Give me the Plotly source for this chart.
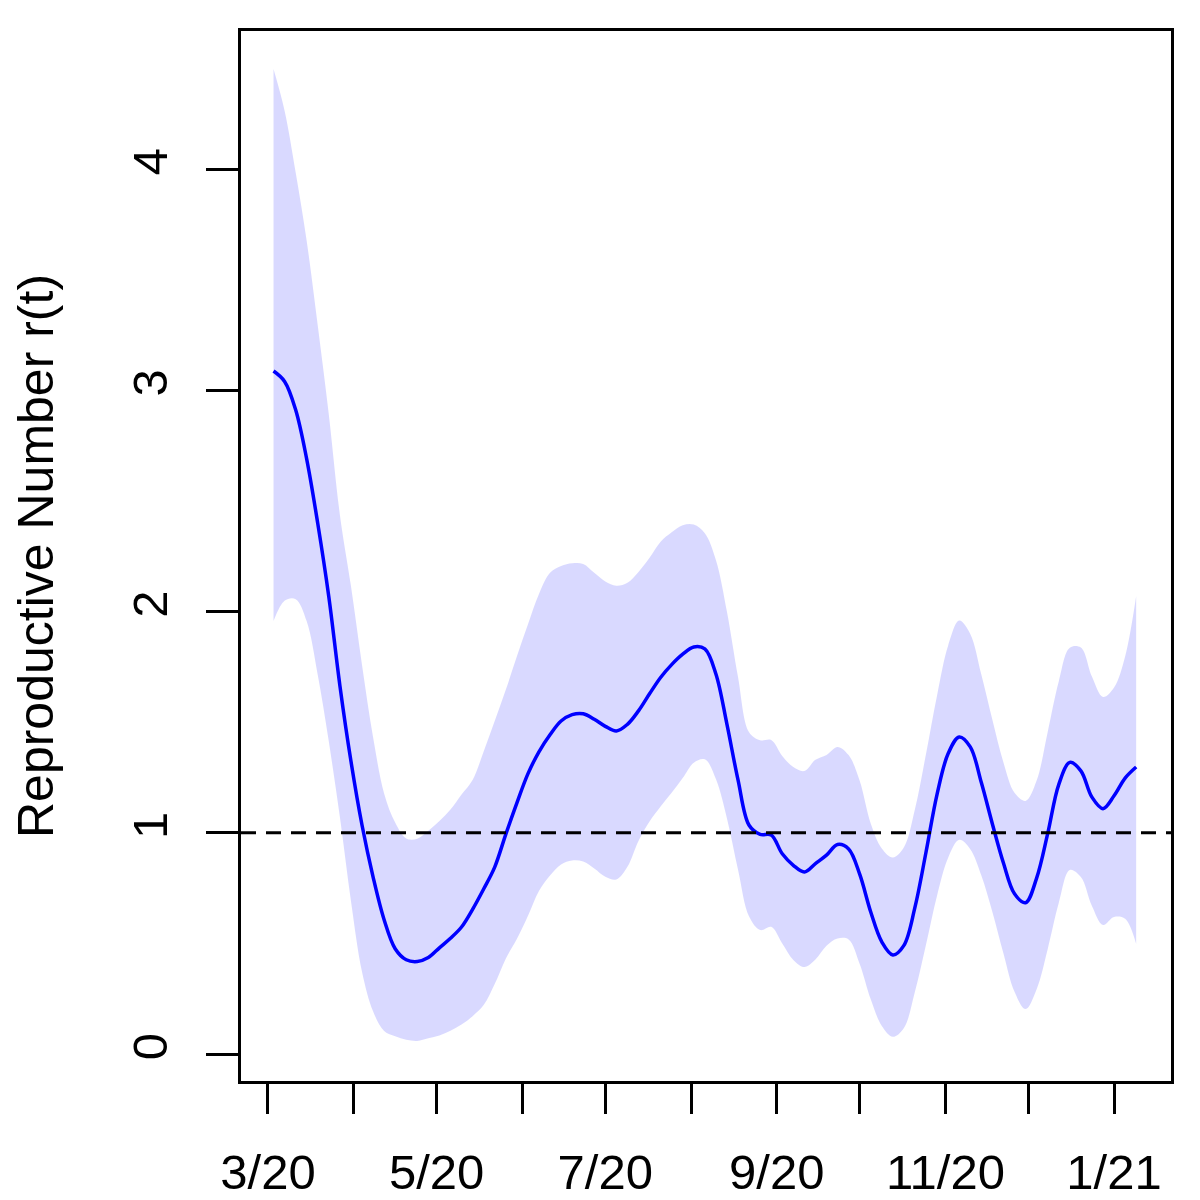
import pandas as pd
import plotly.graph_objects as go

# Estimated reproductive number r(t) with 95% band, sampled every 4 days from 2020-03-03
r_mean = [3.087, 3.040, 2.912, 2.689, 2.398, 2.067, 1.666, 1.324, 1.035, 0.801,
          0.607, 0.476, 0.426, 0.418, 0.436, 0.480, 0.523, 0.574, 0.654, 0.746,
          0.845, 0.993, 1.134, 1.266, 1.366, 1.443, 1.505, 1.534, 1.538, 1.513,
          1.481, 1.460, 1.490, 1.551, 1.628, 1.702, 1.760, 1.807, 1.840, 1.831,
          1.718, 1.490, 1.239, 1.034, 0.993, 0.990, 0.905, 0.853, 0.823, 0.861,
          0.899, 0.947, 0.927, 0.813, 0.642, 0.507, 0.448, 0.491, 0.664, 0.913,
          1.175, 1.358, 1.433, 1.388, 1.227, 1.040, 0.863, 0.724, 0.684, 0.795,
          0.996, 1.218, 1.318, 1.280, 1.161, 1.109, 1.167, 1.247, 1.297]

r_upper = [4.452, 4.264, 3.986, 3.675, 3.293, 2.891, 2.438, 2.116, 1.760, 1.433,
           1.178, 1.046, 0.974, 0.973, 1.009, 1.053, 1.105, 1.173, 1.239, 1.367,
           1.505, 1.646, 1.797, 1.941, 2.079, 2.175, 2.206, 2.218, 2.215, 2.175,
           2.136, 2.117, 2.130, 2.179, 2.243, 2.315, 2.358, 2.390, 2.393, 2.354,
           2.233, 1.999, 1.704, 1.454, 1.418, 1.419, 1.347, 1.297, 1.279, 1.330,
           1.352, 1.388, 1.351, 1.235, 1.042, 0.929, 0.888, 0.934, 1.107, 1.357,
           1.622, 1.846, 1.959, 1.899, 1.715, 1.511, 1.318, 1.181, 1.144, 1.236,
           1.456, 1.684, 1.836, 1.837, 1.706, 1.614, 1.657, 1.797, 2.070]

r_lower = [1.957, 2.049, 2.056, 1.956, 1.713, 1.412, 1.071, 0.692, 0.372, 0.193,
           0.104, 0.080, 0.064, 0.059, 0.071, 0.084, 0.105, 0.133, 0.171, 0.221,
           0.316, 0.431, 0.520, 0.624, 0.737, 0.807, 0.857, 0.875, 0.870, 0.838,
           0.801, 0.789, 0.846, 0.963, 1.051, 1.119, 1.181, 1.247, 1.317, 1.332,
           1.243, 1.065, 0.833, 0.621, 0.560, 0.575, 0.499, 0.425, 0.393, 0.427,
           0.489, 0.522, 0.518, 0.407, 0.247, 0.127, 0.078, 0.118, 0.283, 0.495,
           0.717, 0.887, 0.968, 0.926, 0.807, 0.642, 0.454, 0.281, 0.203, 0.293,
           0.474, 0.682, 0.832, 0.800, 0.669, 0.583, 0.619, 0.611, 0.497]

dates = pd.date_range("2020-03-03", periods=len(r_mean), freq="4D")

tick_dates = pd.date_range("2020-03-01", "2021-01-01", freq="MS")
tick_text = ["3/20", "", "5/20", "", "7/20", "", "9/20", "", "11/20", "", "1/21"]
y_ticks = [0, 1, 2, 3, 4]

FONT = "Liberation Sans, Arial, sans-serif"

fig = go.Figure()

# Konfidenzband
fig.add_trace(go.Scatter(x=dates, y=r_lower, mode="lines", line=dict(width=0, shape="spline"),
                         hoverinfo="skip", showlegend=False))
fig.add_trace(go.Scatter(x=dates, y=r_upper, mode="lines", line=dict(width=0, shape="spline"),
                         fill="tonexty", fillcolor="rgba(0,0,255,0.15)",
                         hoverinfo="skip", showlegend=False))

# Schätzung
fig.add_trace(go.Scatter(x=dates, y=r_mean, mode="lines",
                         line=dict(color="#0000FF", width=3.5, shape="spline"),
                         showlegend=False))

fig.add_hline(y=1, line=dict(color="black", width=3, dash="15px,10px"))

# y-Achsentitel als Annotation, damit die Lage genau stimmt
fig.add_annotation(text="Reproductive Number r(t)", textangle=-90,
                   xref="paper", yref="paper", x=0, y=0.5, xshift=-205,
                   xanchor="center", yanchor="middle", showarrow=False,
                   borderpad=0, font=dict(size=50))

# Seite hat ca. 7px Rand -> Ränder entsprechend verschoben
fig.update_layout(
    width=1200, height=1200,
    margin=dict(l=233, r=37, t=23, b=127),
    paper_bgcolor="white", plot_bgcolor="white",
    font=dict(family=FONT, size=49, color="black"),
    showlegend=False,
)

fig.update_xaxes(
    type="date",
    range=["2020-02-20 05:45", "2021-01-21 14:20"],
    tickmode="array", tickvals=tick_dates, ticktext=tick_text,
    ticks="outside", ticklen=30, tickwidth=2.5, tickcolor="black",
    ticklabelstandoff=16,
    showline=True, linecolor="black", linewidth=2.5, mirror=True,
    showgrid=False, zeroline=False,
    automargin=False,
)

fig.update_yaxes(
    range=[-0.122, 4.624],
    tickmode="array", tickvals=y_ticks,
    tickangle=-90,
    ticks="outside", ticklen=32, tickwidth=2.5, tickcolor="black",
    ticklabelstandoff=20,
    showline=True, linecolor="black", linewidth=2.5, mirror=True,
    showgrid=False, zeroline=False,
    automargin=False,
)

fig.write_html("out.html")
